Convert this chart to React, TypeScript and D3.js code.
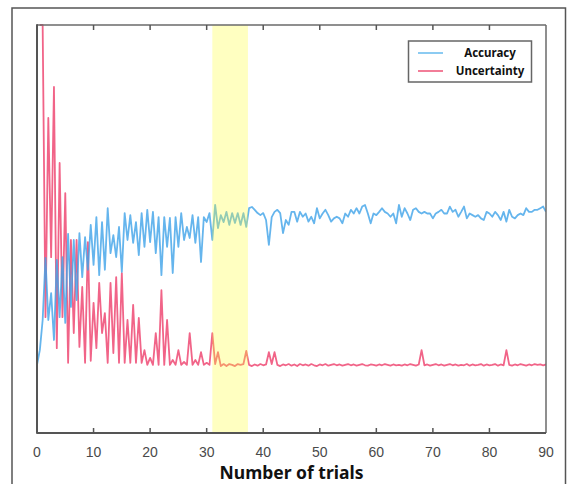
import React from "react";
import * as d3 from "d3";

// x grid: one sample every half trial, from trial 0 to trial 90
const STEP = 0.5;
const xTicks = [0, 10, 20, 30, 40, 50, 60, 70, 80, 90];
const seriesNames = ["Accuracy", "Uncertainty"];
const highlight = [31, 37.3];

const accuracy: number[] = [
  16.7, 20.3, 27.7, 42.9, 27.7, 34.3, 22.8, 42.4, 28.4, 43.1,
  27.0, 48.8, 30.9, 47.3, 32.6, 49.0, 38.2, 48.0, 40.0, 51.0,
  41.2, 52.9, 38.7, 51.7, 40.0, 55.1, 44.1, 48.5, 43.1, 50.5,
  39.5, 53.9, 47.3, 53.4, 46.6, 51.7, 43.6, 53.9, 45.6, 54.7,
  46.8, 54.2, 44.1, 52.9, 38.7, 52.9, 45.6, 52.7, 39.2, 52.9,
  45.6, 53.9, 47.3, 50.5, 47.8, 53.4, 46.6, 52.9, 41.9, 52.9,
  51.7, 53.9, 47.3, 55.9, 50.2, 53.4, 51.7, 54.2, 51.0, 53.9,
  51.5, 53.9, 51.0, 53.9, 50.5, 55.1, 55.4, 54.7, 53.9, 53.4,
  53.9, 52.2, 46.1, 52.9, 54.2, 54.7, 53.9, 49.0, 52.2, 51.0,
  54.2, 54.2, 51.8, 54.2, 53.0, 53.8, 51.8, 53.0, 51.4, 55.1,
  52.6, 53.8, 54.7, 53.4, 51.8, 52.6, 53.0, 52.6, 51.4, 53.8,
  53.0, 54.7, 53.8, 55.1, 53.8, 55.5, 55.9, 53.8, 51.4, 53.8,
  53.4, 54.2, 55.1, 54.2, 53.8, 53.0, 53.8, 51.4, 55.9, 53.0,
  55.1, 53.8, 52.2, 54.7, 55.1, 54.2, 53.8, 54.2, 53.8, 53.8,
  52.6, 53.8, 54.2, 54.7, 53.8, 53.8, 55.5, 54.2, 54.7, 53.0,
  54.2, 55.5, 52.6, 53.8, 53.4, 53.0, 53.4, 52.6, 52.2, 54.2,
  53.8, 53.0, 54.2, 53.4, 52.2, 54.2, 51.8, 54.7, 53.0, 52.6,
  53.4, 53.8, 53.4, 55.1, 54.2, 54.2, 54.7, 54.7, 55.1, 55.5,
  54.2,
];

const uncertainty: (number | null)[] = [
  null, 100, 100, 28.4, 77.2, 43.1, 84.8, 20.8, 66.2, 28.4,
  58.8, 17.2, 47.3, 24.5, 47.3, 21.1, 35.8, 17.2, 46.8, 17.7,
  31.9, 20.8, 36.8, 24.5, 29.4, 17.2, 36.8, 19.6, 38.2, 17.2,
  39.2, 17.2, 27.7, 17.2, 31.4, 17.2, 28.2, 17.2, 20.3, 16.7,
  18.4, 16.7, 24.5, 16.7, 35.0, 16.7, 27.7, 16.7, 17.9, 16.7,
  20.3, 16.7, 17.4, 16.7, 24.5, 16.7, 17.9, 16.7, 19.8, 16.7,
  17.2, 16.7, 24.5, 16.9, 19.8, 16.4, 16.9, 16.4, 16.9, 16.7,
  16.4, 16.9, 16.7, 16.9, 20.1, 16.7, 16.4, 16.8, 16.5, 16.9,
  16.6, 16.8, 19.8, 16.9, 19.8, 16.7, 16.4, 16.8, 16.6, 16.9,
  16.5, 16.8, 16.4, 16.9, 16.6, 16.8, 16.5, 16.9, 16.6, 16.4,
  16.8, 16.6, 16.9, 16.5, 16.7, 16.9, 16.6, 16.8, 16.5, 16.7,
  16.9, 16.6, 16.8, 16.5, 16.7, 16.9, 16.6, 16.5, 16.8, 16.7,
  16.5, 16.8, 16.6, 16.9, 16.7, 16.5, 16.8, 16.6, 16.7, 16.5,
  16.8, 16.6, 16.9, 16.7, 16.5, 16.8, 20.3, 16.6, 16.8, 16.5,
  16.7, 16.9, 16.6, 16.8, 16.5, 16.7, 16.9, 16.6, 16.8, 16.5,
  16.7, 16.6, 16.9, 16.5, 16.8, 16.6, 16.7, 16.9, 16.5, 16.8,
  16.6, 16.7, 16.9, 16.5, 16.8, 16.6, 20.3, 16.7, 16.5, 16.8,
  16.6, 16.9, 16.7, 16.5, 16.8, 16.6, 16.9, 16.7, 16.8, 16.6,
  16.8,
];

const W = 567;
const H = 484;
const L = 37, R = 546, T = 25, B = 433;

export default function App() {
  const x = d3.scaleLinear().domain([0, 90]).range([L, R]);
  const y = d3.scaleLinear().domain([0, 100]).range([B, T]);
  const line = d3
    .line<number | null>()
    .defined((d) => d != null)
    .x((_, i) => x(i * STEP))
    .y((d) => y(d as number));

  const blue = "#3fa3e8";
  const red = "#ee3d6a";

  return (
    <svg
      width={W}
      height={H}
      style={{ position: "absolute", left: 0, top: 0, display: "block", background: "#fff" }}
    >
      <defs>
        <clipPath id="plotclip">
          <rect x={L} y={T - 1} width={R - L} height={B - T + 1} />
        </clipPath>
      </defs>
      {/* outer frame */}
      <path d={`M12,${H} V8 H565.5 V${H}`} fill="none" stroke="#555" strokeWidth={1.5} />

      <g clipPath="url(#plotclip)">
        <path d={line(uncertainty) || ""} fill="none" stroke={red} strokeWidth={1.8} strokeOpacity={0.8} strokeLinejoin="round" />
        <path d={line(accuracy) || ""} fill="none" stroke={blue} strokeWidth={1.8} strokeOpacity={0.8} strokeLinejoin="round" />
      </g>

      {/* highlighted trial range */}
      <rect
        x={x(highlight[0])}
        y={T}
        width={x(highlight[1]) - x(highlight[0])}
        height={B - T}
        fill="#ffff33"
        fillOpacity={0.3}
      />

      {/* plot box */}
      <line x1={L} x2={R} y1={T} y2={T} stroke="#6a6a6a" strokeWidth={1.5} />
      <line x1={R} x2={R} y1={T} y2={B} stroke="#6a6a6a" strokeWidth={1.5} />
      <line x1={L} x2={L} y1={T - 0.75} y2={B + 0.75} stroke="#555" strokeWidth={2} />
      <line x1={L} x2={R} y1={B} y2={B} stroke="#555" strokeWidth={2} />

      {/* ticks */}
      {xTicks.map((t) => (
        <g key={t}>
          {t > 0 && t < 90 && (
            <>
              <line x1={x(t)} x2={x(t)} y1={B} y2={B - 5} stroke="#555" strokeWidth={1.5} />
              <line x1={x(t)} x2={x(t)} y1={T} y2={T + 5} stroke="#555" strokeWidth={1.5} />
            </>
          )}
          <text
            x={x(t)}
            y={457}
            textAnchor="middle"
            fontFamily="'Liberation Sans', Arial, sans-serif"
            fontSize={14}
            fill="#4a4a4a"
          >
            {t}
          </text>
        </g>
      ))}

      <text
        x={291.5}
        y={479}
        textAnchor="middle"
        fontFamily="'Noto Sans', sans-serif"
        fontWeight="bold"
        fontSize={17.5}
        fill="#111"
      >
        Number of trials
      </text>

      {/* legend */}
      <rect x={408.5} y={41} width={123} height={41} fill="#fff" stroke="#666" strokeWidth={1.5} />
      <line x1={418} x2={443} y1={53} y2={53} stroke="#8ccbf2" strokeWidth={2} />
      <line x1={418} x2={443} y1={71} y2={71} stroke="#f27d98" strokeWidth={2} />
      <text x={490} y={57} textAnchor="middle" fontFamily="'Noto Sans', sans-serif" fontWeight="bold" fontSize={11.5} fill="#111">
        {seriesNames[0]}
      </text>
      <text x={490} y={75} textAnchor="middle" fontFamily="'Noto Sans', sans-serif" fontWeight="bold" fontSize={11.5} fill="#111">
        {seriesNames[1]}
      </text>
    </svg>
  );
}
